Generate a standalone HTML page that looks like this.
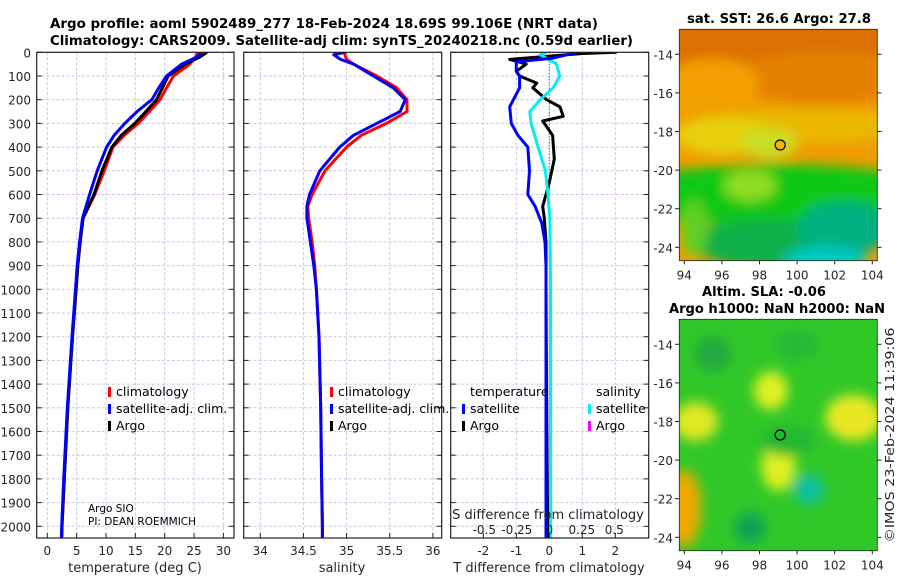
<!DOCTYPE html>
<html><head><meta charset="utf-8"><style>
body{margin:0;background:#fff;}
svg{display:block;font-family:"DejaVu Sans","Liberation Sans",sans-serif;}
.tk{font-size:12px;fill:#262626;}
.ttl{font-size:13px;font-weight:bold;fill:#000;}
.lg{font-size:12.5px;fill:#000;}
</style></head><body>
<svg id="c" width="900" height="580" viewBox="0 0 900 580">
<defs>
<filter id="bl" x="-20%" y="-20%" width="140%" height="140%"><feGaussianBlur stdDeviation="6"/></filter>
<clipPath id="cm1"><rect x="679.3" y="29.3" width="198" height="231.4"/></clipPath>
<clipPath id="cm2"><rect x="679.3" y="319.3" width="198" height="231.4"/></clipPath>
<clipPath id="cp1"><rect x="36.7" y="52.3" width="197.3" height="485.7"/></clipPath>
<clipPath id="cp2"><rect x="243.7" y="52.3" width="198" height="485.7"/></clipPath>
<clipPath id="cp3"><rect x="450.7" y="52.3" width="198" height="485.7"/></clipPath>
</defs>
<text class="ttl" x="50" y="28" textLength="548" lengthAdjust="spacingAndGlyphs">Argo profile: aoml 5902489_277 18-Feb-2024 18.69S 99.106E (NRT data)</text>
<text class="ttl" x="50" y="45" textLength="583" lengthAdjust="spacingAndGlyphs">Climatology: CARS2009. Satellite-adj clim: synTS_20240218.nc (0.59d earlier)</text>
<g id="grid"></g>
<g id="lines"></g>
<g id="frames"></g>
<g id="maps"></g>
<text x="779" y="23" text-anchor="middle" textLength="184" lengthAdjust="spacingAndGlyphs" style="font-size:13px;font-weight:bold">sat. SST: 26.6 Argo: 27.8</text>
<text x="764" y="296" text-anchor="middle" textLength="124" lengthAdjust="spacingAndGlyphs" style="font-size:13px;font-weight:bold">Altim. SLA: -0.06</text>
<text x="777" y="313" text-anchor="middle" textLength="216" lengthAdjust="spacingAndGlyphs" style="font-size:13px;font-weight:bold">Argo h1000: NaN h2000: NaN</text>
<text transform="translate(894,435) rotate(-90)" text-anchor="middle" textLength="215" lengthAdjust="spacingAndGlyphs" style="font-size:12.5px;fill:#262626">©IMOS 23-Feb-2024 11:39:06</text>
<text x="88" y="512" style="font-size:10.5px">Argo SIO</text>
<text x="88" y="525" style="font-size:10.5px">PI: DEAN ROEMMICH</text>
</svg>
<script>
// depth-axis data
const depthTicks=[0,100,200,300,400,500,600,700,800,900,1000,1100,1200,1300,1400,1500,1600,1700,1800,1900,2000];
// temperature profiles
const tDepth=[0,20,50,100,150,200,250,300,350,400,500,600,700,800,900,1000,1200,1500,1800,2000,2050];
const tClim=[25.6,25.3,24.3,21.5,20.3,19.2,17.4,15.5,13.1,11.2,9.7,8.1,6.1,5.6,5.2,4.9,4.3,3.5,2.9,2.5,2.45];
const tSat=[26.3,25.5,22.9,20.3,19.0,17.8,15.3,13.2,11.4,10.1,8.5,7.2,6.0,5.5,5.1,4.8,4.2,3.4,2.8,2.45,2.4];
const tArgo=[27.2,26.0,23.5,20.6,19.6,18.6,16.8,14.9,12.6,11.0,9.3,7.95,6.1,5.6,5.2,4.9,4.3,3.5,2.9,2.5,2.45];
// salinity profiles
const sDepth=[0,10,30,50,100,150,200,250,300,350,400,500,600,650,700,800,900,1000,1200,1500,1800,2000,2050];
const sClim=[34.98,34.98,35.0,35.08,35.35,35.58,35.70,35.70,35.46,35.17,35.0,34.75,34.60,34.55,34.56,34.60,34.63,34.65,34.68,34.70,34.71,34.72,34.72];
const sSat=[34.98,34.85,34.93,35.08,35.31,35.54,35.68,35.62,35.35,35.08,34.92,34.69,34.57,34.54,34.54,34.58,34.62,34.65,34.68,34.70,34.71,34.72,34.72];
// difference profiles
const dDepthA=[0,5,30,50,80,100,130,150,200,230,270,290,350,450,550,650,700,800,1000,1500,2000,2050];
const dTArgo=[2.04,1.0,-1.2,-0.7,-1.0,-0.9,-0.38,-0.5,-0.08,0.32,0.42,-0.2,0.1,0.15,0.0,-0.2,-0.15,-0.1,-0.1,-0.08,-0.05,-0.05];
const dDepthS=[0,25,40,80,100,150,230,300,350,400,500,600,650,720,800,900,1200,1600,2050];
const dTSat=[0.83,0.1,-1.0,-1.0,-0.9,-0.9,-1.2,-1.15,-0.95,-0.65,-0.6,-0.65,-0.43,-0.23,-0.13,-0.1,-0.1,-0.1,-0.1];
const dSDepth=[0,10,50,100,150,200,250,300,400,500,600,700,1000,2050];
const dSSat=[-0.02,-0.07,0.056,0.08,0.03,-0.07,-0.15,-0.14,-0.086,-0.03,-0.01,0.005,0.01,0.01];
// axis ticks
const tTicks=[0,5,10,15,20,25,30];
const sTicks=[34,34.5,35,35.5,36];
const tdTicks=[-2,-1,0,1,2];
const sdTicks=[-0.5,-0.25,0,0.25,0.5];
const sdLabels=["-0.5","-0.25","0","0.25","0.5"];
const lonTicks=[94,96,98,100,102,104];
const latTicks=[-14,-16,-18,-20,-22,-24];
const floatPos=[99.1,-18.7];

const yD=d=>52.3+d*0.237;
const xT=t=>47.3+t*5.87;
const xS=s=>260.3+(s-34)*86.3;
const xTd=t=>549.3+t*33;
const xSd=s=>549.3+s*130;
const mx=l=>684.3+(l-94)*18.8;
const my1=a=>54.3+(-14-a)*19.3;
const my2=a=>344.3+(-14-a)*19.3;

const NS='http://www.w3.org/2000/svg';
const svg=document.getElementById('c');
function mk(tag,attrs,parent){const e=document.createElementNS(NS,tag);for(const k in attrs)e.setAttribute(k,attrs[k]);(parent||svg).appendChild(e);return e;}
const G=document.getElementById('grid'),L=document.getElementById('lines'),F=document.getElementById('frames'),M=document.getElementById('maps');

const panels=[[36.7,234],[243.7,441.7],[450.7,648.7]];
panels.forEach(p=>{depthTicks.forEach(d=>{const l=mk('line',{x1:p[0],x2:p[1],y1:yD(d),y2:yD(d),stroke:'#c5c8e6','stroke-width':1,'stroke-dasharray':'3,2'},G);

});});
tTicks.forEach(t=>{const l=mk('line',{x1:xT(t),x2:xT(t),y1:52.3,y2:538,stroke:'#c5c8e6','stroke-dasharray':'3,2'},G);

});
sTicks.forEach(t=>{const l=mk('line',{x1:xS(t),x2:xS(t),y1:52.3,y2:538,stroke:'#c5c8e6','stroke-dasharray':'3,2'},G);

});
tdTicks.forEach(t=>{const l=mk('line',{x1:xTd(t),x2:xTd(t),y1:52.3,y2:538,stroke:'#c5c8e6','stroke-dasharray':'3,2'},G);

});
const z=mk('line',{x1:xTd(0),x2:xTd(0),y1:52.3,y2:538,stroke:'#333','stroke-width':1,'stroke-dasharray':'1,2'},G);



function poly(xs,ds,fx,color,clip,name){
  const pts=xs.map((v,i)=>fx(v).toFixed(1)+','+yD(ds[i]).toFixed(1)).join(' ');
  const e=mk('polyline',{points:pts,fill:'none',stroke:color,'stroke-width':3,'stroke-linejoin':'round','clip-path':'url(#'+clip+')'},L);
  
  
}
poly(tClim,tDepth,xT,'#ff0000','cp1','temp-climatology-line');
poly(tArgo,tDepth,xT,'#000000','cp1','temp-argo-line');
poly(tSat,tDepth,xT,'#0000ff','cp1','temp-satellite-line');
poly(sClim,sDepth,xS,'#ff0000','cp2','sal-climatology-line');
poly(sSat,sDepth,xS,'#0000ff','cp2','sal-satellite-line');
poly(dTArgo,dDepthA,xTd,'#000000','cp3','tdiff-argo-line');
poly(dSSat,dSDepth,xSd,'#00f0f0','cp3','sdiff-satellite-line');
poly(dTSat,dDepthS,xTd,'#0000ff','cp3','tdiff-satellite-line');

panels.forEach((p,i)=>{const r=mk('rect',{x:p[0],y:52.3,width:p[1]-p[0],height:485.7,fill:'none',stroke:'#222','stroke-width':1.2},F);


depthTicks.forEach(d=>{mk('line',{x1:p[0],x2:p[0]+5,y1:yD(d),y2:yD(d),stroke:'#222'},F);mk('line',{x1:p[1]-5,x2:p[1],y1:yD(d),y2:yD(d),stroke:'#222'},F);});});
depthTicks.forEach(d=>{const t=mk('text',{x:31,y:yD(d)+5,'text-anchor':'end',class:'tk'},F);t.textContent=d;

});
function xlabels(ticks,fx,y){ticks.forEach((v,i)=>{const t=mk('text',{x:fx(v),y:y,'text-anchor':'middle',class:'tk'},F);t.textContent=v;


mk('line',{x1:fx(v),x2:fx(v),y1:538,y2:533,stroke:'#222'},F);});}
xlabels(tTicks,xT,555);
xlabels(sTicks,xS,555);
xlabels(tdTicks,xTd,555);
sdTicks.forEach((v,i)=>{const t=mk('text',{x:xSd(v),y:534,'text-anchor':'middle',class:'tk'},F);t.textContent=sdLabels[i];

});
[['temperature (deg C)',135,'temp-axis-title'],['salinity',342,'sal-axis-title'],['T difference from climatology',549,'tdiff-axis-title']].forEach(a=>{const t=mk('text',{x:a[1],y:572,'text-anchor':'middle',class:'tk',style:'font-size:13px'},F);t.textContent=a[0];

});
const sdt=mk('text',{x:548,y:519,'text-anchor':'middle',class:'tk',style:'font-size:13px'},F);sdt.textContent='S difference from climatology';



function leg(x,y,color,label){mk('rect',{x:x,y:y-9,width:3,height:10,fill:color},F);const t=mk('text',{x:x+8,y:y,class:'lg'},F);t.textContent=label;

}
leg(108,396,'#ff0000','climatology');leg(108,413,'#0000ff','satellite-adj. clim.');leg(108,430,'#000','Argo');
leg(330,396,'#ff0000','climatology');leg(330,413,'#0000ff','satellite-adj. clim.');leg(330,430,'#000','Argo');
[['temperature',470],['salinity',596]].forEach(a=>{const t=mk('text',{x:a[1],y:396,class:'lg'},F);t.textContent=a[0];

});
leg(462,413,'#0000ff','satellite');leg(462,430,'#000','Argo');leg(588,413,'#00f0f0','satellite');leg(588,430,'#ff00ff','Argo');

function blobs(list,clip,fy,base){const g=mk('g',{'clip-path':'url(#'+clip+')'},M);
mk('rect',{x:679.3,y:fy(-12.7),width:198,height:240,fill:base},g);
const gb=mk('g',{filter:'url(#bl)'},g);
list.forEach(b=>mk('ellipse',{cx:mx(b[0]),cy:fy(b[1]),rx:b[2]*18.8,ry:b[3]*19.3,fill:b[4]},gb));return g;}
const g1=blobs([[99,-13.3,9,1.6,'#dc7000'],[101.5,-15.2,5,1.4,'#e48000'],[95.5,-15.5,2.5,1.3,'#f2a000'],[100.5,-17.7,6,0.9,'#eab800'],[96,-18.2,2.5,1.0,'#e8d010'],[98.5,-18.6,1.5,0.8,'#c8e020'],[99,-21.3,9,1.6,'#10c818'],[97.5,-20.8,1.4,0.8,'#90dc20'],[98.5,-23.8,4,1.3,'#10b048'],[102.5,-23,2.5,1.4,'#00b080'],[101.5,-24.6,2.2,0.7,'#00c8c0'],[94.5,-23,0.7,1.5,'#60d020']],'cm1',my1,'#f09c00');


const g2=blobs([[98.6,-16.4,0.9,1.0,'#e0f020'],[103,-17.8,1.5,1.2,'#e8e820'],[94.6,-18,1.2,1.0,'#e0e820'],[99,-20.3,0.9,1.3,'#e0f020'],[94,-22.5,0.9,2.0,'#f0a800'],[100.6,-21.5,0.8,0.8,'#10c0a0'],[97.5,-23.5,0.8,0.8,'#10a058'],[95.5,-14.5,1.0,0.9,'#20a840'],[99.5,-19,1.5,0.8,'#20b830'],[100,-14,1.2,0.8,'#28b838']],'cm2',my2,'#30c828');


[[my1,29.3,'sst'],[my2,319.3,'sla']].forEach(m=>{const fy=m[0],top=m[1];
const r=mk('rect',{x:679.3,y:top,width:198,height:231.4,fill:'none',stroke:'#222','stroke-width':0.8},M);


latTicks.forEach(a=>{mk('line',{x1:675,x2:679.3,y1:fy(a),y2:fy(a),stroke:'#222'},M);mk('line',{x1:877.3,x2:881.5,y1:fy(a),y2:fy(a),stroke:'#222'},M);
const t=mk('text',{x:673,y:fy(a)+5,'text-anchor':'end',class:'tk'},M);t.textContent=a;

});
lonTicks.forEach(l=>{mk('line',{x1:mx(l),x2:mx(l),y1:top+231.4,y2:top+235,stroke:'#222'},M);
const t=mk('text',{x:mx(l),y:top+250,'text-anchor':'middle',class:'tk'},M);t.textContent=l;

});
const c=mk('circle',{cx:mx(floatPos[0]),cy:fy(floatPos[1]),r:5,fill:m[2]=='sst'?'#f5b800':'none',stroke:'#000','stroke-width':1.2},M);

});
</script>
</body></html>
